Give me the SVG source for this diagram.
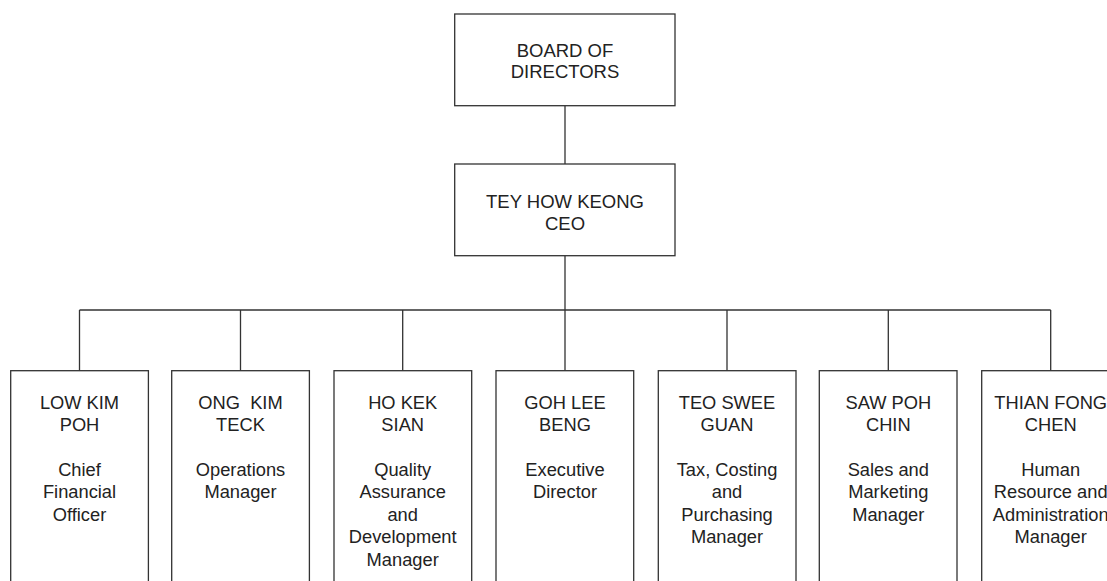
<svg xmlns="http://www.w3.org/2000/svg" width="1107" height="581" viewBox="0 0 1107 581">
<style>
.box{fill:#fff;stroke:#333;stroke-width:1.3}
.con{fill:none;stroke:#333;stroke-width:1.3}
.t{font-family:"Liberation Sans",Arial,sans-serif;fill:#222;text-anchor:middle}
.top{font-size:18.5px}
.bot{font-size:18.3px}
</style>
<rect width="1107" height="581" fill="#fff"/>
<g id="connectors">
<path class="con" d="M565 105.7V164M565 255.7V310M79.5 310H1050.7M79.5 310V370.7M240.5 310V370.7M402.7 310V370.7M565 310V370.7M727 310V370.7M888.3 310V370.7M1050.7 310V370.7"/>
</g>
<g id="board">
<rect class="box" x="454.7" y="14" width="220.3" height="91.7"/>
<text class="t top"><tspan x="565" y="57">BOARD OF</tspan><tspan x="565" y="78">DIRECTORS</tspan></text>
</g>
<g id="ceo">
<rect class="box" x="454.7" y="164" width="220.3" height="91.7"/>
<text class="t top"><tspan x="565" y="207.7">TEY HOW KEONG</tspan><tspan x="565" y="230">CEO</tspan></text>
</g>
<g id="low">
<rect class="box" x="10.7" y="370.7" width="137.7" height="230"/>
<text class="t bot"><tspan x="79.5" y="409">LOW KIM</tspan><tspan x="79.5" y="431.3">POH</tspan><tspan x="79.5" y="476">Chief</tspan><tspan x="79.5" y="498.3">Financial</tspan><tspan x="79.5" y="520.7">Officer</tspan></text>
</g>
<g id="ong">
<rect class="box" x="171.7" y="370.7" width="137.7" height="230"/>
<text class="t bot" style="white-space:pre" xml:space="preserve"><tspan x="240.5" y="409">ONG  KIM</tspan><tspan x="240.5" y="431.3">TECK</tspan><tspan x="240.5" y="476">Operations</tspan><tspan x="240.5" y="498.3">Manager</tspan></text>
</g>
<g id="ho">
<rect class="box" x="334" y="370.7" width="137.7" height="230"/>
<text class="t bot"><tspan x="402.7" y="409">HO KEK</tspan><tspan x="402.7" y="431.3">SIAN</tspan><tspan x="402.7" y="476">Quality</tspan><tspan x="402.7" y="498.3">Assurance</tspan><tspan x="402.7" y="520.7">and</tspan><tspan x="402.7" y="543.2">Development</tspan><tspan x="402.7" y="565.7">Manager</tspan></text>
</g>
<g id="goh">
<rect class="box" x="496" y="370.7" width="137.7" height="230"/>
<text class="t bot"><tspan x="565" y="409">GOH LEE</tspan><tspan x="565" y="431.3">BENG</tspan><tspan x="565" y="476">Executive</tspan><tspan x="565" y="498.3">Director</tspan></text>
</g>
<g id="teo">
<rect class="box" x="658.3" y="370.7" width="137.7" height="230"/>
<text class="t bot"><tspan x="727" y="409">TEO SWEE</tspan><tspan x="727" y="431.3">GUAN</tspan><tspan x="727" y="476">Tax, Costing</tspan><tspan x="727" y="498.3">and</tspan><tspan x="727" y="520.7">Purchasing</tspan><tspan x="727" y="543.2">Manager</tspan></text>
</g>
<g id="saw">
<rect class="box" x="819.3" y="370.7" width="137.7" height="230"/>
<text class="t bot"><tspan x="888.3" y="409">SAW POH</tspan><tspan x="888.3" y="431.3">CHIN</tspan><tspan x="888.3" y="476">Sales and</tspan><tspan x="888.3" y="498.3">Marketing</tspan><tspan x="888.3" y="520.7">Manager</tspan></text>
</g>
<g id="thian">
<rect class="box" x="981.7" y="370.7" width="137.7" height="230"/>
<text class="t bot"><tspan x="1050.7" y="409">THIAN FONG</tspan><tspan x="1050.7" y="431.3">CHEN</tspan><tspan x="1050.7" y="476">Human</tspan><tspan x="1050.7" y="498.3">Resource and</tspan><tspan x="1050.7" y="520.7">Administration</tspan><tspan x="1050.7" y="543.2">Manager</tspan></text>
</g>
</svg>
